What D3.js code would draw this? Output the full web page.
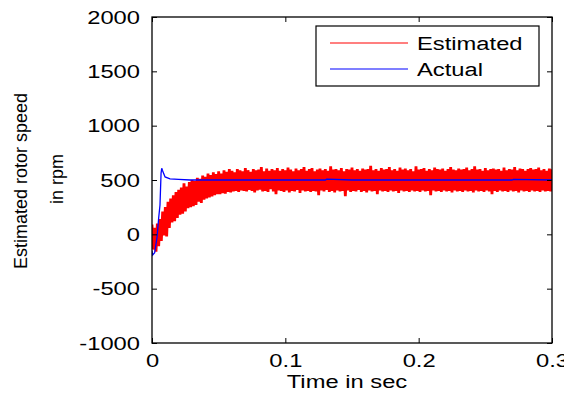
<!DOCTYPE html>
<html>
<head>
<meta charset="utf-8">
<script src="https://cdn.jsdelivr.net/npm/d3@7"></script>
<style>
  body { margin: 0; background: #fff; }
  svg { display: block; font-family: "Liberation Sans", Arial, sans-serif; }
</style>
</head>
<body>
<div id="chart"></div>
<script>
// x ticks / y ticks
const xTicks = [0, 0.1, 0.2, 0.3];
const yTicks = [-1000, -500, 0, 500, 1000, 1500, 2000];

// actual rotor speed (blue)
const actualTime  = [0, 0.0005, 0.002, 0.0038, 0.005, 0.006, 0.0068, 0.0073, 0.0078, 0.0083, 0.0098, 0.0135, 0.02, 0.0285, 0.05, 0.1, 0.13, 0.131, 0.15, 0.2, 0.25, 0.27, 0.271, 0.3];
const actualSpeed = [-150, -190, -170, -24, 150, 270, 564, 608, 590, 574, 528, 510, 505, 500, 500, 500, 500, 508, 500, 500, 500, 500, 506, 500];

// estimated rotor speed (red), one sample per ms, noisy band
const estStep = 0.001;
const estSpeed = [
  90, -140, 60, -160, 100, -110, 140, -60, 210, -10,
  250, -20, 300, 60, 330, 110, 360, 120, 390, 150,
  410, 180, 430, 190, 470, 210, 440, 240, 480, 250,
  500, 260, 490, 270, 520, 300, 510, 290, 540, 320,
  530, 330, 560, 340, 545, 350, 570, 360, 555, 370,
  580, 370, 560, 380, 590, 375, 575, 390, 600, 385,
  585, 395, 570, 400, 600, 390, 590, 405, 580, 400,
  610, 395, 590, 410, 575, 400, 600, 385, 590, 405,
  595, 410, 620, 395, 580, 400, 605, 390, 585, 415,
  600, 395, 590, 370, 610, 405, 585, 400, 600, 390,
  590, 405, 615, 385, 595, 400, 580, 395, 605, 410,
  590, 380, 600, 405, 620, 395, 585, 400, 600, 390,
  610, 400, 580, 395, 595, 360, 605, 405, 590, 395,
  600, 410, 585, 390, 625, 400, 595, 385, 600, 405,
  590, 395, 610, 400, 580, 350, 600, 405, 595, 390,
  615, 400, 590, 395, 600, 410, 585, 390, 605, 400,
  595, 385, 600, 405, 630, 395, 590, 400, 600, 370,
  585, 405, 610, 395, 595, 400, 600, 390, 620, 405,
  590, 395, 600, 400, 585, 380, 615, 405, 595, 395,
  605, 400, 590, 390, 600, 405, 580, 395, 625, 400,
  595, 390, 600, 405, 610, 395, 585, 400, 600, 360,
  590, 405, 615, 395, 600, 400, 595, 390, 605, 405,
  585, 395, 600, 400, 620, 385, 595, 405, 590, 395,
  605, 400, 595, 390, 600, 405, 615, 395, 590, 400,
  600, 385, 625, 405, 595, 395, 600, 400, 585, 390,
  610, 405, 590, 395, 600, 370, 605, 400, 595, 390,
  600, 405, 585, 395, 615, 400, 590, 390, 600, 405,
  595, 395, 620, 400, 590, 385, 605, 405, 600, 395,
  585, 400, 600, 390, 610, 405, 595, 395, 600, 400,
  615, 390, 590, 405, 600, 395, 585, 400, 605, 395, 600
];

const legendNames = ["Estimated", "Actual"];
const colors = ["#ff0000", "#0000ff"];

const width = 564, height = 396;
const margin = { top: 17, right: 12, bottom: 53, left: 152 };
const sx = 1.32; // horizontal text stretch of the original raster
const tickFmt = d => String(d); // plain hyphen minus like matlab

const svg = d3.select("#chart").append("svg")
  .attr("width", width)
  .attr("height", height);

const x = d3.scaleLinear().domain([0, 0.3]).range([margin.left, width - margin.right]);
const y = d3.scaleLinear().domain([-1000, 2000]).range([height - margin.bottom, margin.top]);

svg.append("clipPath").attr("id", "plotClip")
  .append("rect")
  .attr("x", margin.left).attr("y", margin.top)
  .attr("width", width - margin.left - margin.right)
  .attr("height", height - margin.top - margin.bottom);

const plot = svg.append("g").attr("clip-path", "url(#plotClip)");

// estimated (red)
const estLine = d3.line()
  .x((d, i) => x(i * estStep))
  .y(d => y(d));
plot.append("path")
  .datum(estSpeed)
  .attr("fill", "none")
  .attr("stroke", colors[0])
  .attr("stroke-width", 2.8)
  .attr("stroke-linejoin", "bevel")
  .attr("d", estLine);

// actual (blue)
const actLine = d3.line()
  .x((d, i) => x(actualTime[i]))
  .y(d => y(d));
plot.append("path")
  .datum(actualSpeed)
  .attr("fill", "none")
  .attr("stroke", colors[1])
  .attr("stroke-width", 1.3)
  .attr("d", actLine);

// axes, ticks pointing inwards like matlab
function styleAxis(g) {
  g.select(".domain").remove();
  g.selectAll("line").attr("stroke", "#000").attr("stroke-width", 1);
}

const xAxis = svg.append("g")
  .attr("transform", "translate(0," + (height - margin.bottom) + ")")
  .call(d3.axisBottom(x).tickValues(xTicks).tickSize(-5).tickFormat(tickFmt));
styleAxis(xAxis);
xAxis.selectAll("text")
  .attr("y", null).attr("dy", null)
  .attr("fill", "#000")
  .style("font-size", "18px")
  .attr("text-anchor", "middle")
  .attr("transform", "translate(0,24) scale(" + sx + ",1)");

svg.append("g")
  .attr("transform", "translate(0," + margin.top + ")")
  .call(d3.axisTop(x).tickValues(xTicks).tickSize(-5).tickFormat(""))
  .call(styleAxis);

const yAxis = svg.append("g")
  .attr("transform", "translate(" + margin.left + ",0)")
  .call(d3.axisLeft(y).tickValues(yTicks).tickSize(-5).tickFormat(tickFmt));
styleAxis(yAxis);
yAxis.selectAll("text")
  .attr("x", null).attr("dy", "0.35em")
  .attr("fill", "#000")
  .style("font-size", "18px")
  .attr("text-anchor", "end")
  .attr("transform", "translate(-12,0) scale(" + sx + ",1)");

svg.append("g")
  .attr("transform", "translate(" + (width - margin.right) + ",0)")
  .call(d3.axisRight(y).tickValues(yTicks).tickSize(-5).tickFormat(""))
  .call(styleAxis);

// frame
svg.append("rect")
  .attr("x", margin.left).attr("y", margin.top)
  .attr("width", width - margin.left - margin.right)
  .attr("height", height - margin.top - margin.bottom)
  .attr("fill", "none")
  .attr("stroke", "#000")
  .attr("stroke-width", 1.3);

// axis titles
svg.append("text")
  .attr("transform", "translate(347,388) scale(" + sx + ",1)")
  .attr("text-anchor", "middle")
  .style("font-size", "18px")
  .text("Time in sec");

svg.append("text")
  .attr("transform", "translate(27,181) rotate(-90)")
  .attr("text-anchor", "middle")
  .style("font-size", "18px")
  .text("Estimated rotor speed");
svg.append("text")
  .attr("transform", "translate(63,179) rotate(-90)")
  .attr("text-anchor", "middle")
  .style("font-size", "18px")
  .text("in rpm");

// legend
const legend = svg.append("g");
legend.append("rect")
  .attr("x", 316).attr("y", 26)
  .attr("width", 223).attr("height", 60)
  .attr("fill", "#fff")
  .attr("stroke", "#000")
  .attr("stroke-width", 1.2);

const items = legend.selectAll(".item")
  .data(legendNames)
  .enter().append("g")
  .attr("transform", (d, i) => "translate(0," + (43 + i * 26) + ")");
items.append("line")
  .attr("x1", 330).attr("x2", 408)
  .attr("stroke", (d, i) => colors[i])
  .attr("stroke-width", 1.2);
items.append("text")
  .attr("transform", "translate(417,7) scale(" + sx + ",1)")
  .style("font-size", "18px")
  .text(d => d);
</script>
</body>
</html>
